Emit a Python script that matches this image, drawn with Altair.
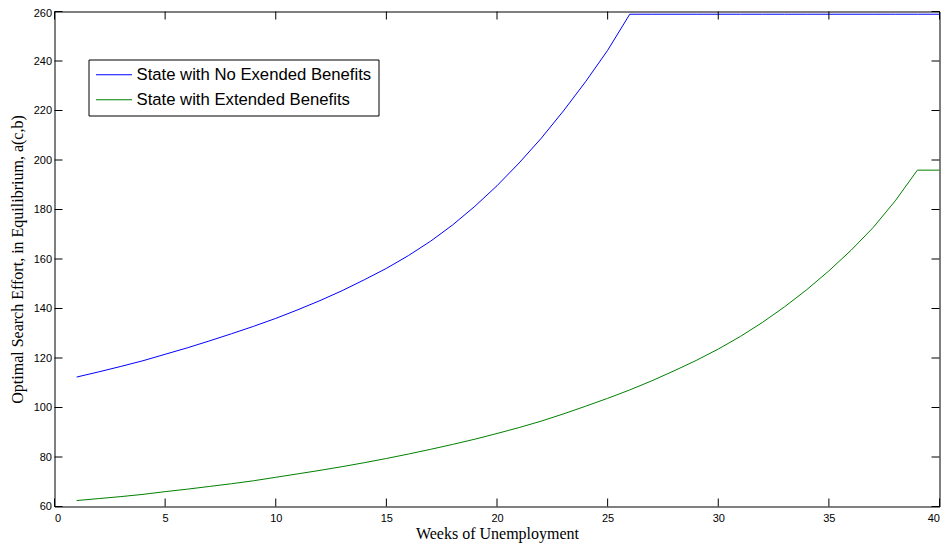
import altair as alt
import pandas as pd

weeks = list(range(1, 41))
no_extended = [112.3, 114.4, 116.6, 118.9, 121.5, 124.1, 126.9, 129.8, 132.8, 136.0,
               139.5, 143.2, 147.2, 151.6, 156.2, 161.4, 167.2, 173.8, 181.3, 189.6,
               198.8, 208.8, 219.8, 231.6, 244.3, 258.9, 258.9, 258.9, 258.9, 258.9,
               258.9, 258.9, 258.9, 258.9, 258.9, 258.9, 258.9, 258.9, 258.9, 258.9]
extended = [62.4, 63.2, 64.0, 64.9, 66.0, 67.0, 68.1, 69.2, 70.4, 71.8,
            73.2, 74.6, 76.1, 77.7, 79.4, 81.2, 83.1, 85.1, 87.2, 89.5,
            91.9, 94.5, 97.4, 100.5, 103.7, 107.1, 110.8, 114.8, 119.0, 123.6,
            128.7, 134.4, 140.7, 147.6, 155.2, 163.5, 172.7, 183.5, 195.9, 195.9]
series_names = ["State with No Exended Benefits", "State with Extended Benefits"]
series_colors = ["#0000ff", "#008000"]
x_ticks = [0, 5, 10, 15, 20, 25, 30, 35, 40]
y_ticks = [60, 80, 100, 120, 140, 160, 180, 200, 220, 240, 260]

W, H = 885, 495
TICK = 8

df = pd.DataFrame({
    "week": weeks * 2,
    "value": no_extended + extended,
    "series": [series_names[0]] * len(weeks) + [series_names[1]] * len(weeks),
})

xscale = alt.Scale(domain=[0, 40], nice=False, zero=False)
yscale = alt.Scale(domain=[60, 260], nice=False, zero=False)
XT = "Weeks of Unemployment"
YT = "Optimal Search Effort, in Equilibrium, a(c,b)"
common = dict(ticks=False, domain=False, grid=False,
              labelFont="Liberation Sans", labelFontSize=11, labelColor="black",
              titleFont="Liberation Serif", titleFontSize=16, titleFontWeight="normal",
              titleColor="black")
xaxis = alt.Axis(values=x_ticks, title=XT, labelPadding=6, titlePadding=2, **common)
yaxis = alt.Axis(values=y_ticks, title=YT, labelPadding=3, titlePadding=8,
                 labelOffset={"condition": {"test": "datum.value == 260", "value": 2},
                              "value": 0},
                 **common)

lines = alt.Chart(df).mark_line(strokeWidth=1).encode(
    x=alt.X("week:Q", scale=xscale, axis=xaxis, title=XT),
    y=alt.Y("value:Q", scale=yscale, axis=yaxis, title=YT),
    color=alt.Color("series:N",
                    scale=alt.Scale(domain=series_names, range=series_colors),
                    legend=alt.Legend(orient="none", legendX=34, legendY=48,
                                      title=None, strokeColor="black",
                                      fillColor="white", padding=7,
                                      symbolSize=1296, symbolStrokeWidth=1,
                                      clipHeight=16.5,
                                      labelFontSize=16.7, labelLimit=500,
                                      labelFont="Liberation Sans", labelColor="black",
                                      labelOffset=4, rowPadding=8,
                                      cornerRadius=0)),
)

xt = pd.DataFrame({"t": x_ticks})
yt = pd.DataFrame({"t": y_ticks})

xb = alt.Chart(xt).mark_rule(stroke="black", strokeWidth=1).encode(
    x=alt.X("t:Q", scale=xscale, axis=xaxis, title=XT), y=alt.value(H), y2=alt.value(H - TICK))
xtop = alt.Chart(xt).mark_rule(stroke="black", strokeWidth=1).encode(
    x=alt.X("t:Q", scale=xscale, axis=xaxis, title=XT), y=alt.value(0), y2=alt.value(TICK))
yl = alt.Chart(yt).mark_rule(stroke="black", strokeWidth=1).encode(
    y=alt.Y("t:Q", scale=yscale, axis=yaxis, title=YT), x=alt.value(0), x2=alt.value(TICK))
yr = alt.Chart(yt).mark_rule(stroke="black", strokeWidth=1).encode(
    y=alt.Y("t:Q", scale=yscale, axis=yaxis, title=YT), x=alt.value(W), x2=alt.value(W - TICK))

chart = alt.layer(lines, xb, xtop, yl, yr).properties(
    width=W, height=H,
    background="white",
    autosize=alt.AutoSizeParams(type="none"),
    padding={"left": 46.5, "top": 3.5, "right": 2, "bottom": 36},
).configure_view(
    stroke="black", strokeWidth=1, fill="white"
).configure_axis(
    ticks=False, domain=False, grid=False,
    labelFont="Liberation Sans", labelFontSize=11, labelColor="black",
    titleFont="Liberation Serif", titleFontSize=16, titleFontWeight="normal",
    titleColor="black",
)

chart.save("out.html", embed_options={"renderer": "svg", "actions": False})
